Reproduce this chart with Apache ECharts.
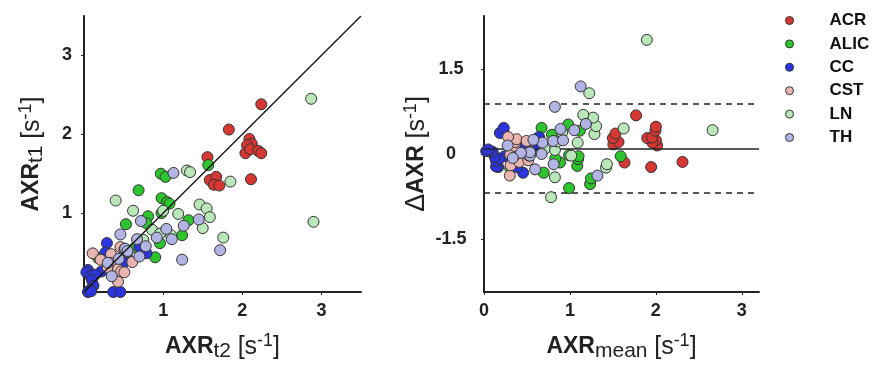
<!DOCTYPE html>
<html>
<head>
<meta charset="utf-8">
<script src="https://cdn.jsdelivr.net/npm/echarts@6/dist/echarts.min.js"></script>
<style>
  html, body { margin: 0; padding: 0; background: #fff; }
  #chart { width: 878px; height: 367px; }
</style>
</head>
<body>
<div id="chart"></div>
<script>
// tracts, in drawing order
const categories = ['ACR', 'ALIC', 'CC', 'CST', 'LN', 'TH'];

// [AXR t2, AXR t1] per region of interest
const acr = [[2.24, 2.38], [1.83, 2.06], [1.56, 1.71], [2.09, 1.94], [2.12, 1.88], [2.06, 1.86], [2.04, 1.76],
  [2.10, 1.81], [2.20, 1.79], [2.24, 1.76], [2.11, 1.43], [1.59, 1.42], [1.67, 1.46], [1.64, 1.36], [1.71, 1.35]];
const alic = [[1.57, 1.61], [0.97, 1.50], [1.03, 1.46], [0.69, 1.29], [0.98, 1.19], [1.05, 1.14], [1.08, 1.12],
  [0.98, 1.00], [0.53, 0.86], [0.81, 0.96], [0.79, 0.87], [1.32, 0.91], [1.24, 0.72], [0.96, 0.62], [0.90, 0.44],
  [0.65, 0.57], [0.18, 0.43]];
const cc = [[0.29, 0.62], [0.27, 0.50], [0.79, 0.49], [0.70, 0.57], [0.54, 0.45], [0.50, 0.37], [0.22, 0.26],
  [0.05, 0.28], [0.03, 0.25], [0.08, 0.20], [0.14, 0.22], [0.10, 0.15], [0.12, 0.08], [0.08, 0.03], [0.05, 0.0],
  [0.09, 0.01], [0.37, 0.0], [0.46, 0.0]];
const cst = [[0.11, 0.49], [0.21, 0.41], [0.34, 0.48], [0.33, 0.37], [0.38, 0.32], [0.30, 0.31], [0.46, 0.57],
  [0.51, 0.54], [0.55, 0.51], [0.43, 0.29], [0.47, 0.26], [0.51, 0.25], [0.43, 0.13], [0.61, 0.38]];
const ln = [[2.87, 2.45], [2.90, 0.89], [1.30, 1.54], [1.34, 1.52], [1.85, 1.40], [0.40, 1.16], [0.62, 1.03],
  [1.00, 1.03], [1.19, 0.99], [1.46, 1.11], [1.55, 1.06], [1.59, 0.95], [1.50, 0.81], [1.76, 0.69], [0.86, 0.79],
  [0.96, 0.74], [0.75, 0.66], [1.10, 0.72]];
const th = [[1.13, 1.51], [0.72, 0.90], [0.46, 0.73], [0.67, 0.67], [0.52, 0.55], [0.55, 0.52], [0.78, 0.58],
  [0.70, 0.45], [0.44, 0.42], [0.30, 0.37], [0.35, 0.20], [0.92, 0.69], [1.04, 0.80], [1.11, 0.67], [1.26, 0.84],
  [1.45, 0.92], [1.24, 0.41], [1.72, 0.53]];

// Bland-Altman lines
const biasMean = 0.1;
const loaUpper = 0.88;
const loaLower = -0.68;
const identityLine = [[0, 0], [3.5, 3.5]];

const leftTicks = [1, 2, 3];
const rightXTicks = [0, 1, 2, 3];
const rightYTicks = [-1.5, 0, 1.5];

const palette = ['#d63733', '#2ec42e', '#2b34df', '#eab4b1', '#b9e7b9', '#b2b4e4'];
const font = '"Liberation Sans", Arial, Helvetica, sans-serif';
const ink = '#222';

const groups = [acr, alic, cc, cst, ln, th];

const nameRich = {
  b: { fontSize: 23, fontWeight: 'bold', lineHeight: 30, fontFamily: font, color: ink },
  n: { fontSize: 25, fontWeight: 'normal', lineHeight: 30, fontFamily: font, color: ink },
  d: { fontSize: 27, fontWeight: 'normal', lineHeight: 30, fontFamily: font, color: ink },
  sub: { fontSize: 21, lineHeight: 9, verticalAlign: 'bottom', fontFamily: font, color: ink },
  sup: { fontSize: 18, lineHeight: 18, verticalAlign: 'top', fontFamily: font, color: ink }
};

const tickLabel = { fontFamily: font, fontSize: 18, fontWeight: 'bold', color: ink };
const tickMark = { inside: false, length: 3, lineStyle: { color: ink, width: 1 } };

function axisBase(extra) {
  return Object.assign({
    type: 'value',
    splitLine: { show: false },
    axisLine: { onZero: false, lineStyle: { color: ink, width: 2 } },
    nameLocation: 'middle',
    nameTextStyle: { fontSize: 24, fontFamily: font, color: ink, rich: nameRich }
  }, extra);
}

const scatterStyle = (i) => ({
  color: palette[i], borderColor: '#333', borderWidth: 1, opacity: 1
});

const series = [];
groups.forEach((g, i) => {
  series.push({
    name: categories[i], type: 'scatter', xAxisIndex: 0, yAxisIndex: 0,
    symbolSize: 11, itemStyle: scatterStyle(i), z: 2 + i,
    data: g.map(p => [p[0], p[1]])
  });
});
groups.forEach((g, i) => {
  series.push({
    name: categories[i], type: 'scatter', xAxisIndex: 1, yAxisIndex: 1,
    symbolSize: 11, itemStyle: scatterStyle(i), z: 2 + i,
    // mean of the two sessions vs. t2 - t1
    data: g.map(p => [(p[0] + p[1]) / 2, p[0] - p[1]])
  });
});
series.push({
  type: 'line', xAxisIndex: 0, yAxisIndex: 0, data: identityLine,
  symbol: 'none', silent: true, z: 10,
  lineStyle: { color: '#111', width: 1.3 }
});
series.push({
  type: 'scatter', xAxisIndex: 1, yAxisIndex: 1, data: [], silent: true, z: 1,
  markLine: {
    silent: true, symbol: 'none', label: { show: false },
    data: [
      { yAxis: biasMean, lineStyle: { type: 'solid', color: '#222', width: 1.5 } },
      { yAxis: loaUpper, lineStyle: { type: [6, 5], color: '#222', width: 1.5 } },
      { yAxis: loaLower, lineStyle: { type: [6, 5], color: '#222', width: 1.5 } }
    ]
  }
});

const chart = echarts.init(document.getElementById('chart'), null, { renderer: 'canvas' });
chart.setOption({
  animation: false,
  backgroundColor: '#fff',
  grid: [
    { left: 84, top: 16, width: 277, height: 277 },
    { left: 484, top: 16, width: 275, height: 277 }
  ],
  legend: {
    orient: 'vertical', left: 780, top: 7,
    data: categories,
    icon: 'circle', itemWidth: 8, itemHeight: 8, itemGap: 6.4,
    itemStyle: { borderColor: '#333', borderWidth: 1 },
    textStyle: { fontFamily: font, fontSize: 17, fontWeight: 'bold', color: '#111', lineHeight: 16, padding: [0, 0, 0, 31] },
    selectedMode: false
  },
  xAxis: [
    axisBase({
      gridIndex: 0, min: 0, max: 3.5,
      axisLabel: Object.assign({ margin: 10, customValues: leftTicks }, tickLabel),
      axisTick: Object.assign({ customValues: leftTicks }, tickMark),
      name: '{b|AXR}{sub|t2} {n|[s}{sup|-1}{n|]}', nameGap: 40
    }),
    axisBase({
      gridIndex: 1, min: 0, max: 3.2,
      axisLabel: Object.assign({ margin: 10, customValues: rightXTicks }, tickLabel),
      axisTick: Object.assign({ customValues: rightXTicks }, tickMark),
      name: '{b|AXR}{sub|mean} {n|[s}{sup|-1}{n|]}', nameGap: 40
    })
  ],
  yAxis: [
    axisBase({
      gridIndex: 0, min: 0, max: 3.5,
      axisLabel: Object.assign({ margin: 17, align: 'center', customValues: leftTicks }, tickLabel),
      axisTick: Object.assign({ customValues: leftTicks }, tickMark),
      name: '{b|AXR}{sub|t1} {n|[s}{sup|-1}{n|]}', nameGap: 37
    }),
    axisBase({
      gridIndex: 1, min: -2.43, max: 2.43,
      axisLabel: Object.assign({ margin: 33, align: 'center', customValues: rightYTicks }, tickLabel),
      axisTick: Object.assign({ customValues: rightYTicks }, tickMark),
      name: '{d|Δ}{b|AXR} {n|[s}{sup|-1}{n|]}', nameGap: 52
    })
  ],
  series: series
});
</script>
</body>
</html>
